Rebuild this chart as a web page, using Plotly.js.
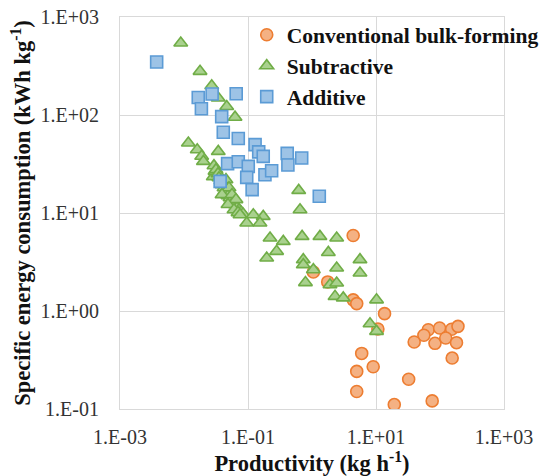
<!DOCTYPE html>
<html>
<head>
<meta charset="utf-8">
<script src="https://cdn.plot.ly/plotly-3.0.1.min.js"></script>
<style>html,body{margin:0;padding:0;background:#fff;}#chart{width:543px;height:476px;}</style>
</head>
<body>
<div id="chart"></div>
<script>
// Conventional bulk-forming
const convX = [4.4, 1.05, 1.76, 4.4, 5.0, 13.6, 10.7, 65.6, 98.6, 152, 191, 56, 39.5, 83.5, 123, 181, 155, 5.98, 9.04, 5.0, 5.0, 32.4, 19.3, 75.5];
const convY = [5.9, 2.5, 1.98, 1.30, 1.19, 0.94, 0.655, 0.644, 0.671, 0.652, 0.697, 0.566, 0.483, 0.468, 0.530, 0.475, 0.331, 0.369, 0.270, 0.242, 0.151, 0.201, 0.111, 0.121];

// Subtractive
const subX = [0.0089, 0.0178, 0.0271, 0.0343, 0.0465, 0.0627,
  0.0117, 0.0161, 0.0189, 0.0201, 0.0343, 0.0287, 0.0305,
  0.0294, 0.0316, 0.034, 0.0352, 0.0379, 0.0393, 0.0422, 0.0437, 0.047, 0.0487, 0.0524, 0.0543, 0.0583, 0.0627, 0.0673, 0.0723, 0.0777, 0.0835,
  0.0453, 0.0505, 0.0393, 0.0562, 0.0649, 0.0487, 0.0604, 0.0698,
  0.075, 0.121, 0.173, 0.0955, 0.154, 0.221, 0.356, 0.280, 0.196,
  0.62, 0.65, 0.70, 1.33, 2.43, 1.80, 0.731, 0.731, 1.05, 0.79, 2.43, 5.62, 5.62, 1.91, 2.43, 2.29, 3.08, 10.2, 8.06, 10.2];
const subY = [543, 279, 199, 149, 122, 95,
  51.8, 44.2, 38, 33.6, 42.5, 23.5, 26.6,
  30.4, 27.7, 25.2, 22.9, 21.4, 19.4, 18.1, 16.9, 16.1, 15.0, 14.3, 13.4, 12.7, 12.2, 11.3, 10.8, 10.3, 9.84,
  21.9, 18.1, 15.4, 15.4, 13.7, 12.2, 10.8, 10.1,
  9.61, 9.61, 9.23, 7.91, 7.91, 5.56, 5.13, 4.06, 3.47,
  17.0, 10.8, 5.77, 5.77, 5.56, 3.96, 3.34, 2.97, 2.64, 1.95, 2.75, 3.34, 2.44, 1.85, 1.93, 1.41, 1.36, 1.30, 0.741, 0.620];

// Additive
const addX = [0.00374, 0.0167, 0.0187, 0.0275, 0.0654, 0.0388, 0.0411, 0.0705, 0.129, 0.147, 0.173, 0.41, 0.42, 0.690, 0.048, 0.0705, 0.101, 0.0955, 0.184, 0.234, 0.116, 0.0367, 1.30];
const addY = [348, 151, 116, 164, 165, 96.3, 66.7, 57.5, 49.8, 42, 37.8, 40.6, 30.9, 36.4, 31.9, 33.3, 29.9, 23.1, 24.6, 27.0, 17.3, 21.0, 14.8];

const seriesNames = ['Conventional bulk-forming', 'Subtractive', 'Additive'];
const xTickVals = [0.001, 0.1, 10, 1000];
const xTickText = ['1.E-03', '1.E-01', '1.E+01', '1.E+03'];
const yTickVals = [0.1, 1, 10, 100, 1000];
const yTickText = ['1.E-01', '1.E+00', '1.E+01', '1.E+02', '1.E+03'];

const font = 'Liberation Serif';
const mk = (sym, fill, line) => ({symbol: sym, size: 12, color: fill, line: {color: line, width: 1.6}});

const traces = [
  {x: convX, y: convY, name: seriesNames[0], type: 'scatter', mode: 'markers', marker: mk('circle', '#F4B183', '#ED7D31')},
  {x: subX, y: subY, name: seriesNames[1], type: 'scatter', mode: 'markers', marker: mk('triangle-up', '#A9D18E', '#70AD47')},
  {x: addX, y: addY, name: seriesNames[2], type: 'scatter', mode: 'markers', marker: mk('square', '#9DC3E6', '#5B9BD5')}
];

const layout = {
  width: 543, height: 476,
  margin: {l: 120, r: 39, t: 17, b: 67, autoexpand: false},
  paper_bgcolor: '#fff', plot_bgcolor: '#fff',
  font: {family: font, color: '#222'},
  showlegend: true,
  legend: {x: 0.33, y: 1.007, xanchor: 'left', yanchor: 'top', bgcolor: 'rgba(0,0,0,0)',
    font: {family: font, size: 21.5, color: '#111', weight: 'bold'}},
  xaxis: {type: 'log', range: [-3, 3], tickvals: xTickVals, ticktext: xTickText,
    showgrid: true, gridcolor: '#D9D9D9', gridwidth: 1, zeroline: false,
    showline: true, linecolor: '#D9D9D9', mirror: true, ticks: '',
    ticklabelstandoff: 10,
    tickfont: {family: font, size: 20, color: '#333'},
    title: {text: 'Productivity (kg h<sup>-1</sup>)', font: {family: font, size: 22.5, color: '#111', weight: 'bold'}, standoff: 7}},
  yaxis: {type: 'log', range: [-1, 3], tickvals: yTickVals, ticktext: yTickText,
    showgrid: true, gridcolor: '#D9D9D9', gridwidth: 1, zeroline: false,
    showline: true, linecolor: '#D9D9D9', mirror: true, ticks: '',
    ticklabelstandoff: 16,
    tickfont: {family: font, size: 20, color: '#333'},
    title: {text: 'Specific energy consumption (kWh kg<sup>-1</sup>)', font: {family: font, size: 22.5, color: '#111', weight: 'bold'}, standoff: 3}}
};

Plotly.newPlot('chart', traces, layout, {displayModeBar: false, staticPlot: true});
</script>
</body>
</html>
